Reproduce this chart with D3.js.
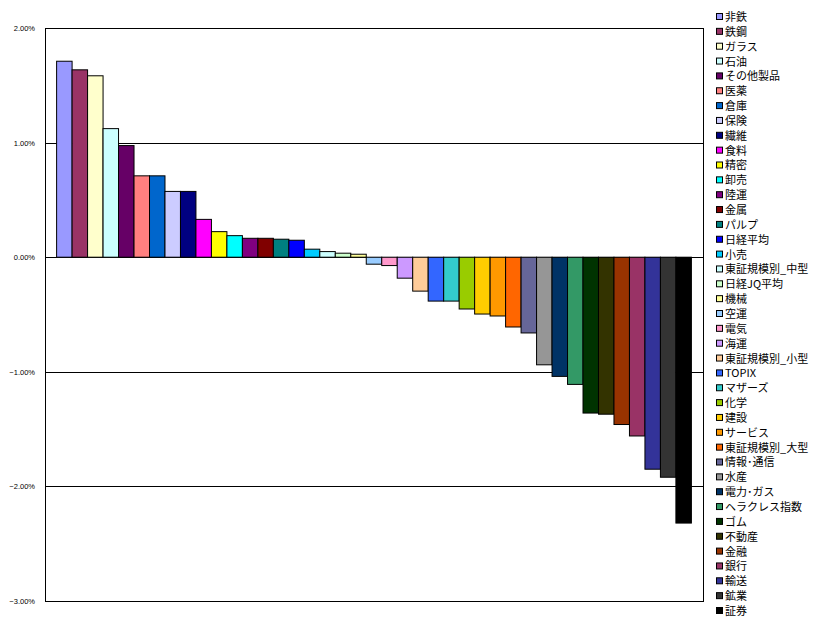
<!DOCTYPE html>
<html><head><meta charset="utf-8">
<script src="https://cdn.jsdelivr.net/npm/d3@7"></script>
<style>body{margin:0;background:#fff;} svg{display:block;}</style>
</head><body>
<svg id="chart" width="820" height="627"></svg>
<script>
const categories = ["非鉄","鉄鋼","ガラス","石油","その他製品","医薬","倉庫","保険","繊維","食料","精密","卸売","陸運","金属","パルプ","日経平均","小売","東証規模別_中型","日経JQ平均","機械","空運","電気","海運","東証規模別_小型","TOPIX","マザーズ","化学","建設","サービス","東証規模別_大型","情報･通信","水産","電力･ガス","ヘラクレス指数","ゴム","不動産","金融","銀行","輸送","鉱業","証券"];
const values = [1.71,1.635,1.583,1.122,0.974,0.71,0.71,0.574,0.574,0.33,0.223,0.188,0.165,0.165,0.157,0.148,0.07,0.049,0.035,0.026,-0.061,-0.073,-0.183,-0.296,-0.383,-0.383,-0.452,-0.496,-0.513,-0.609,-0.661,-0.939,-1.04,-1.11,-1.36,-1.37,-1.46,-1.56,-1.85,-1.92,-2.32];
const colors = ["#9999FF","#993366","#FFFFCC","#CCFFFF","#660066","#FF8080","#0066CC","#CCCCFF","#000080","#FF00FF","#FFFF00","#00FFFF","#800080","#800000","#008080","#0000FF","#00CCFF","#CCFFFF","#CCFFCC","#FFFF99","#99CCFF","#FF99CC","#CC99FF","#FFCC99","#3366FF","#33CCCC","#99CC00","#FFCC00","#FF9900","#FF6600","#666699","#969696","#003366","#339966","#003300","#333300","#993300","#993366","#333399","#333333","#000000"];
const yTicks = [2,1,0,-1,-2,-3];

const svg = d3.select("#chart");
const L = 45, R = 703, T = 28, B = 601;
const x = d3.scaleBand().domain(categories).range([L, R]).paddingInner(0).paddingOuter(0.75);
const y = d3.scaleLinear().domain([-3, 2]).range([B, T]);

// gridlines
svg.append("g").selectAll("line").data(yTicks.filter(t => t > -3 && t < 2)).join("line")
  .attr("x1", L).attr("x2", R).attr("y1", d => Math.round(y(d)) + 0.5).attr("y2", d => Math.round(y(d)) + 0.5)
  .attr("stroke", "#000").attr("stroke-width", 1);

// bars
svg.append("g").selectAll("rect").data(values).join("rect")
  .attr("x", (d, i) => x(categories[i]))
  .attr("width", x.bandwidth())
  .attr("y", d => y(Math.max(0, d)))
  .attr("height", d => Math.abs(y(d) - y(0)))
  .attr("fill", (d, i) => colors[i])
  .attr("stroke", "#000").attr("stroke-width", 1);

// plot border
svg.append("rect").attr("x", L + 0.5).attr("y", T + 0.5).attr("width", R - L).attr("height", B - T)
  .attr("fill", "none").attr("stroke", "#000").attr("stroke-width", 1);

// y axis labels
const yAxis = d3.axisLeft(y).tickValues(yTicks).tickSize(0).tickPadding(10)
  .tickFormat(d => d3.format(".2f")(d) + "%");
const ga = svg.append("g").attr("transform", `translate(${L},0)`).call(yAxis);
ga.select(".domain").remove();
ga.selectAll("text").attr("font-family", "Arial, 'Liberation Sans', sans-serif").attr("font-size", 7.5).attr("fill", "#000");

// legend
const lg = svg.append("g").attr("transform", "translate(716,17)");
const items = lg.selectAll("g").data(categories).join("g")
  .attr("transform", (d, i) => `translate(0,${i * 14.85})`);
items.append("rect").attr("x", 0.5).attr("y", -3.5).attr("width", 6).attr("height", 6)
  .attr("fill", (d, i) => colors[i]).attr("stroke", "#000").attr("stroke-width", 1);
items.append("text").attr("x", 9).attr("y", 0).attr("dy", "0.36em")
  .attr("font-family", "'Noto Sans CJK JP', sans-serif").attr("font-size", 11).attr("fill", "#000")
  .text(d => d);
</script>
</body></html>
